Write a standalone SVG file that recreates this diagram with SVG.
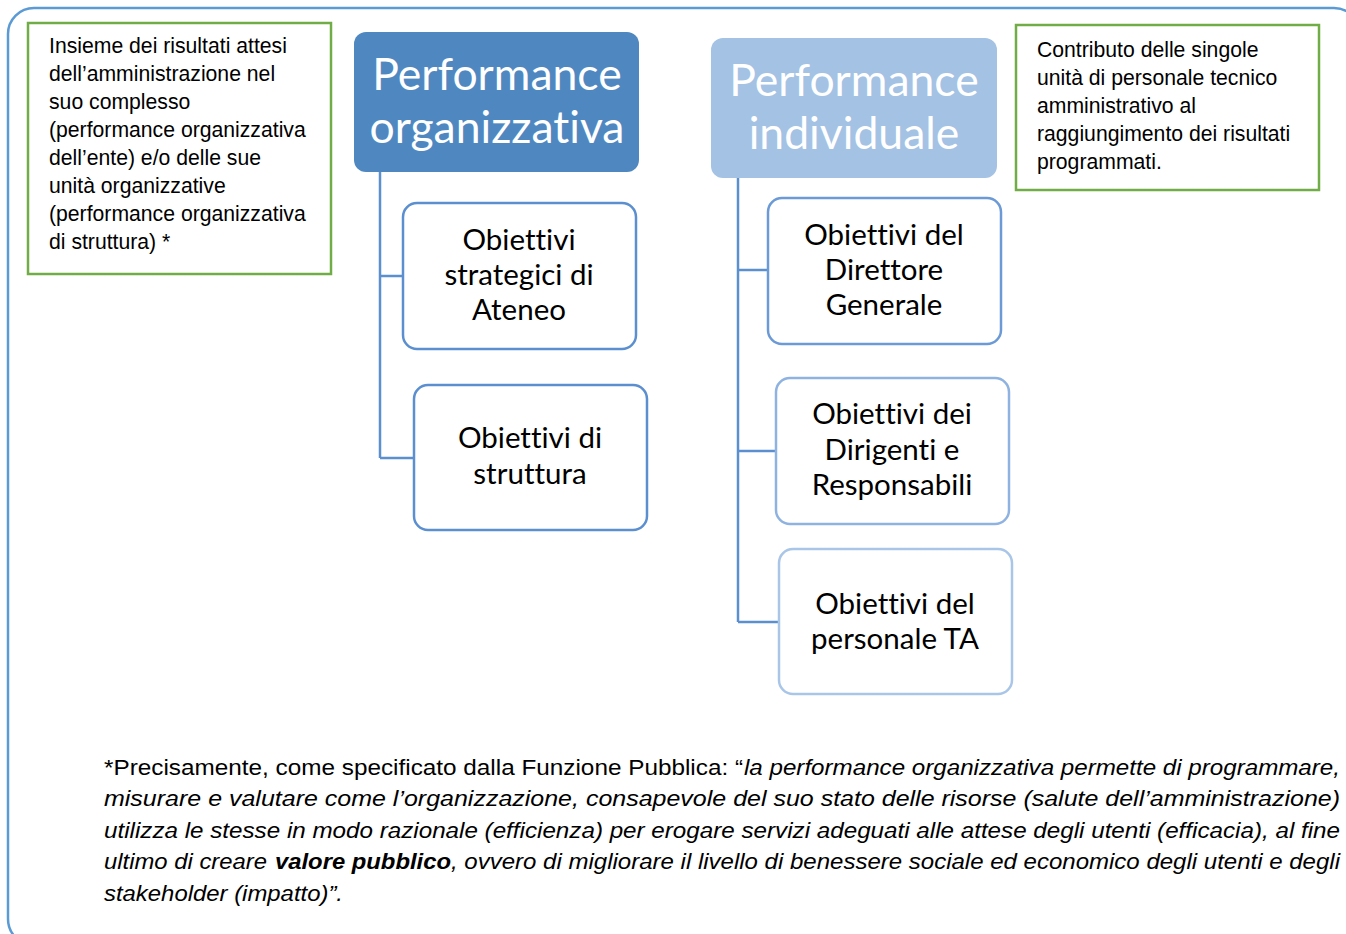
<svg xmlns="http://www.w3.org/2000/svg" width="1346" height="934" viewBox="0 0 1346 934">
<style>
.frame{fill:none;stroke:#5b9bd5;stroke-width:2.5}
.note{fill:#fff;stroke:#70ad47;stroke-width:2.5}
.nt{font-family:"Liberation Sans",Arial,sans-serif;font-size:21.2px;fill:#000}
.head{font-family:Lato,"Open Sans",sans-serif;font-size:44.5px;fill:#fff;text-anchor:middle;font-variant-ligatures:none}
.child{fill:#fff;stroke-width:2.5}
.ct{font-family:Lato,"Open Sans",sans-serif;font-size:29.5px;fill:#000;text-anchor:middle;font-variant-ligatures:none}
.conn{fill:none;stroke:#5b8fcf;stroke-width:2.5}
.ft{font-family:"Liberation Sans",Arial,sans-serif;font-size:22px;fill:#000}
</style>
<rect x="0" y="0" width="1346" height="934" fill="#fff"/>
<rect class="frame" x="8" y="8" width="1352" height="937" rx="26"/>

<g id="note-left">
<rect class="note" x="28" y="23" width="303" height="251"/>
<text class="nt" x="49" y="53">Insieme dei risultati attesi</text>
<text class="nt" x="49" y="81">dell’amministrazione nel</text>
<text class="nt" x="49" y="109">suo complesso</text>
<text class="nt" x="49" y="137">(performance organizzativa</text>
<text class="nt" x="49" y="165">dell’ente) e/o delle sue</text>
<text class="nt" x="49" y="193">unità organizzative</text>
<text class="nt" x="49" y="221">(performance organizzativa</text>
<text class="nt" x="49" y="249">di struttura) *</text>
</g>

<g id="note-right">
<rect class="note" x="1016" y="25" width="303" height="165"/>
<text class="nt" x="1037" y="57">Contributo delle singole</text>
<text class="nt" x="1037" y="85">unità di personale tecnico</text>
<text class="nt" x="1037" y="113">amministrativo al</text>
<text class="nt" x="1037" y="141">raggiungimento dei risultati</text>
<text class="nt" x="1037" y="169">programmati.</text>
</g>

<g id="connectors">
<path class="conn" d="M380 172 V458 M380 276 H403 M380 458 H414"/>
<path class="conn" d="M738 178 V622 M738 270 H768 M738 451 H776 M738 622 H779"/>
</g>

<g id="perf-org">
<rect x="354" y="32" width="285" height="140" rx="12" fill="#4f88c1"/>
<text class="head" x="497" y="90">Performance</text>
<text class="head" x="497" y="143">organizzativa</text>
</g>

<g id="perf-ind">
<rect x="711" y="38" width="286" height="140" rx="12" fill="#a4c2e4"/>
<text class="head" x="854" y="96">Performance</text>
<text class="head" x="854" y="149">individuale</text>
</g>

<g id="obj-strategici">
<rect class="child" x="403" y="203" width="233" height="146" rx="14" stroke="#5b8fcf"/>
<text class="ct" x="519" y="250">Obiettivi</text>
<text class="ct" x="519" y="285">strategici di</text>
<text class="ct" x="519" y="320">Ateneo</text>
</g>

<g id="obj-struttura">
<rect class="child" x="414" y="385" width="233" height="145" rx="14" stroke="#5b8fcf"/>
<text class="ct" x="530" y="448">Obiettivi di</text>
<text class="ct" x="530" y="484">struttura</text>
</g>

<g id="obj-dg">
<rect class="child" x="768" y="198" width="233" height="146" rx="14" stroke="#6b9ad6"/>
<text class="ct" x="884" y="245">Obiettivi del</text>
<text class="ct" x="884" y="280">Direttore</text>
<text class="ct" x="884" y="315">Generale</text>
</g>

<g id="obj-dirigenti">
<rect class="child" x="776" y="378" width="233" height="146" rx="14" stroke="#8fb3e0"/>
<text class="ct" x="892" y="424">Obiettivi dei</text>
<text class="ct" x="892" y="460">Dirigenti e</text>
<text class="ct" x="892" y="495">Responsabili</text>
</g>

<g id="obj-ta">
<rect class="child" x="779" y="549" width="233" height="145" rx="14" stroke="#a9c6e8"/>
<text class="ct" x="895" y="614">Obiettivi del</text>
<text class="ct" x="895" y="649">personale TA</text>
</g>

<g id="footnote">
<text class="ft" y="775"><tspan x="104" textLength="639" lengthAdjust="spacingAndGlyphs">*Precisamente, come specificato dalla Funzione Pubblica: “</tspan><tspan x="744" font-style="italic" textLength="596" lengthAdjust="spacingAndGlyphs">la performance organizzativa permette di programmare,</tspan></text>
<text class="ft" x="104" y="806" font-style="italic" textLength="1236" lengthAdjust="spacingAndGlyphs">misurare e valutare come l’organizzazione, consapevole del suo stato delle risorse (salute dell’amministrazione)</text>
<text class="ft" x="104" y="838" font-style="italic" textLength="1236" lengthAdjust="spacingAndGlyphs">utilizza le stesse in modo razionale (efficienza) per erogare servizi adeguati alle attese degli utenti (efficacia), al fine</text>
<text class="ft" y="869" font-style="italic"><tspan x="104" textLength="163" lengthAdjust="spacingAndGlyphs">ultimo di creare</tspan><tspan x="275" font-weight="bold" textLength="176" lengthAdjust="spacingAndGlyphs">valore pubblico</tspan><tspan x="451" textLength="889" lengthAdjust="spacingAndGlyphs">, ovvero di migliorare il livello di benessere sociale ed economico degli utenti e degli</tspan></text>
<text class="ft" x="104" y="901" font-style="italic" textLength="239" lengthAdjust="spacingAndGlyphs">stakeholder (impatto)”.</text>
</g>
</svg>
